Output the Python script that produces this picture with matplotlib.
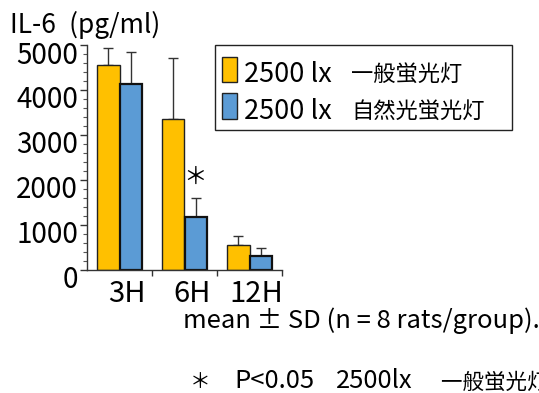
import matplotlib
matplotlib.use("Agg")
import matplotlib.pyplot as plt
from matplotlib.patches import Rectangle
from matplotlib.transforms import ScaledTranslation
import numpy as np

plt.rcParams['font.family'] = ['Noto Sans CJK JP', 'DejaVu Sans']

# data (IL-6, pg/ml)
groups = ['3H', '6H', '12H']
normal_mean = [4550, 3350, 560]
normal_sd = [390, 1370, 190]
natural_mean = [4140, 1180, 310]
natural_sd = [700, 420, 165]
lux = ['2500 lx', '2500 lx']
lamps = ['一般蛍光灯', '自然光蛍光灯']
colors = ['#FFC000', '#5B9BD5']

W, H = 539, 393
fig = plt.figure(figsize=(W / 100, H / 100), dpi=100)
ax = fig.add_axes([87 / W, 1 - 269.7 / H, 195 / W, 224.7 / H])

def fx(px):
    return px / W

def fy(py):
    return 1 - py / H

x = np.arange(len(groups))
w = 0.34
ax.bar(x - w / 2, normal_mean, w, color=colors[0], edgecolor='#222222', linewidth=1.0, zorder=2)
ax.bar(x + w / 2, natural_mean, w, color=colors[1], edgecolor='#111111', linewidth=1.6, zorder=2)
ax.errorbar(x - w / 2, normal_mean, yerr=[np.zeros(3), normal_sd], fmt='none',
            ecolor='#333333', elinewidth=1, capsize=3.5, capthick=1, zorder=1)
ax.errorbar(x + w / 2, natural_mean, yerr=[np.zeros(3), natural_sd], fmt='none',
            ecolor='#333333', elinewidth=1, capsize=3.5, capthick=1, zorder=1)

# significance mark
ax.text(1 + w / 2, natural_mean[1] + natural_sd[1] + 450, '＊', ha='center', va='center', fontsize=17)

ax.set_xlim(-0.5, 2.5)
ax.set_ylim(0, 5000)
for s in ['top', 'right']:
    ax.spines[s].set_visible(False)
for s in ['left', 'bottom']:
    ax.spines[s].set_color('#333333')
    ax.spines[s].set_linewidth(1)

ax.set_yticks(np.arange(0, 5001, 1000))
ax.set_yticks(np.arange(0, 5001, 200), minor=True)
ax.tick_params(axis='y', which='major', length=5, width=1, pad=1.5, labelsize=20, color='#333333')
ax.tick_params(axis='y', which='minor', length=3, width=0.8, color='#555555')
for lab in ax.get_yticklabels():
    lab.set_transform(lab.get_transform() + ScaledTranslation(0, -7 / 100, fig.dpi_scale_trans))

ax.set_xticks(x + 0.5)
ax.set_xticklabels([])
ax.tick_params(axis='x', which='major', length=4, width=1, color='#333333')
for i, g in enumerate(groups):
    ax.text(i + 0.11, -0.145, g, transform=ax.get_xaxis_transform(), ha='center', va='baseline', fontsize=21)

fig.text(fx(10), fy(33), 'IL-6\u2002(pg/ml)', fontsize=19, va='baseline', ha='left')

# legend box drawn by hand (two font sizes in one label)
fig.patches.append(Rectangle((fx(215), fy(130)), fx(512) - fx(215), fy(45) - fy(130),
                             transform=fig.transFigure, facecolor='white', edgecolor='#222222', linewidth=1))
rows = [(57, 82), (93, 119)]
for (top, base), c, lx, lamp in zip(rows, colors, lux, lamps):
    fig.patches.append(Rectangle((fx(222), fy(base)), fx(237) - fx(222), fy(top) - fy(base),
                                 transform=fig.transFigure, facecolor=c, edgecolor='#222222', linewidth=1))
    fig.text(fx(244), fy(base), lx, fontsize=19.5, va='baseline', ha='left')
    fig.text(fx(351), fy(base - 1), lamp, fontsize=16, va='baseline', ha='left')

fig.text(fx(183), fy(328), 'mean ± SD (n = 8 rats/group).', fontsize=18.4, va='baseline', ha='left')

# footnote line (runs off the right edge, as in the original)
fig.text(fx(190), fy(388), '＊', fontsize=15, va='baseline', ha='left')
fig.text(fx(234), fy(388), 'P<0.05', fontsize=18.4, va='baseline', ha='left')
fig.text(fx(336), fy(388), '2500lx', fontsize=18.4, va='baseline', ha='left')
fig.text(fx(441), fy(389), '一般蛍光灯 vs 自然光蛍光灯', fontsize=15.5, va='baseline', ha='left')

fig.savefig('out.png', dpi=100)
